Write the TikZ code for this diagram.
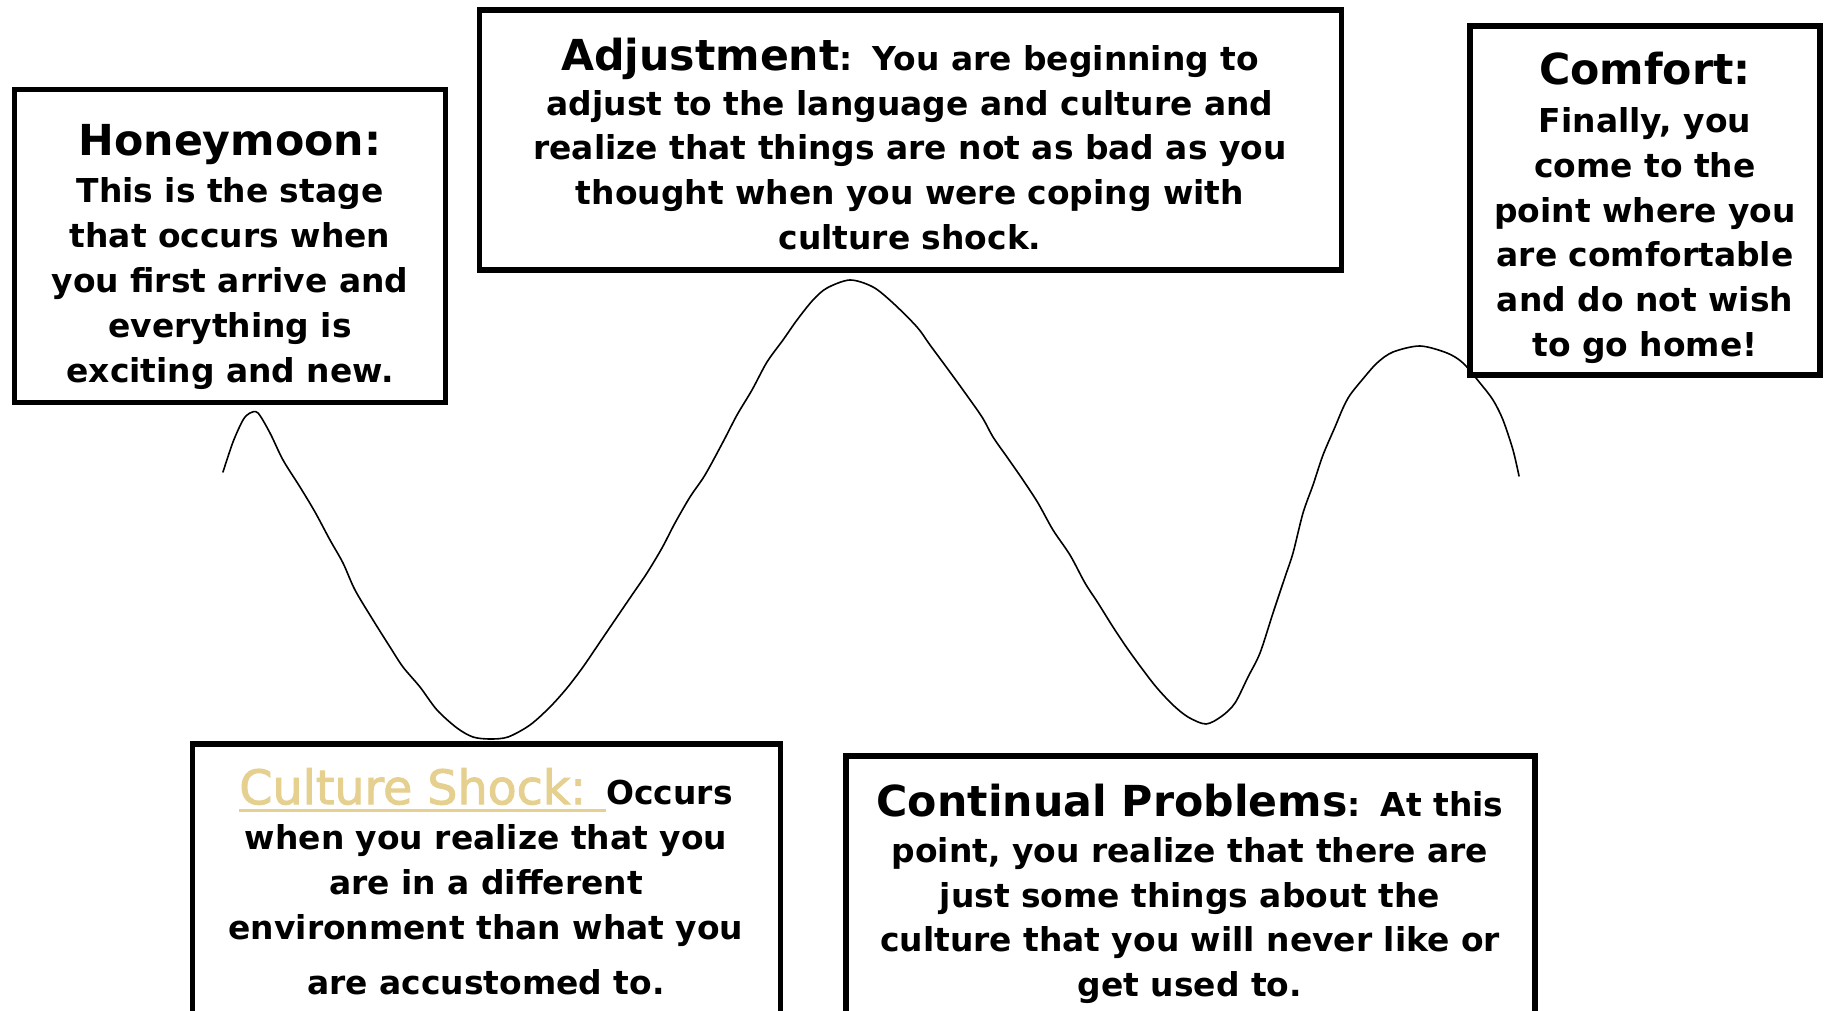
\documentclass[tikz,border=0pt]{standalone}
\usepackage{fontspec}
\setmainfont{DejaVu Sans}
\newfontfamily\shockfont{DejaVu Sans}[FakeBold=2]
\definecolor{shocktan}{HTML}{E5D08F}
\newcommand\titlefont{\fontsize{42.7}{44.5}\selectfont}
\newcommand\shockul[1]{\setbox0\hbox{#1}\rlap{\rule[-8pt]{\wd0}{3.6pt}}\box0}
\begin{document}
\begin{tikzpicture}[x=1pt,y=-1pt,
  box/.style={draw, line width=5.5pt, inner sep=0pt},
  txt/.style={inner sep=0pt, align=center, anchor=north,
    font=\bfseries\fontsize{32.9}{45}\selectfont},
  wave/.style={line width=1.6pt, line join=round, line cap=round}]
\useasboundingbox (0,0) rectangle (1824,1011);
\fill[white] (0,0) rectangle (1824,1011);

% boxes
\node[box, minimum width=431pt, minimum height=313pt] (honeybox) at (230,246) {};
\node[box, minimum width=862pt, minimum height=260pt] (adjbox) at (910.5,140) {};
\node[box, minimum width=350pt, minimum height=349pt] (comfbox) at (1645,200.5) {};
\node[box, minimum width=588pt, minimum height=300pt] (shockbox) at (486.5,894) {};
\node[box, minimum width=689pt, minimum height=290pt] (contbox) at (1190.5,901) {};

% texts
\node[txt] (honeytext) at (230,123.7) {{\titlefont Honeymoon:}\\[2pt]
  This is the stage\\ that occurs when\\ you first arrive and\\ everything is\\ exciting and new.};

\node[txt, font=\bfseries\fontsize{32.9}{44.6}\selectfont] (adjtext) at (910,38) {{\titlefont Adjustment}:\hskip 20pt You are beginning to\\[0pt]
  adjust to the language and culture and\\ realize that things are not as bad as you\\
  thought when you were coping with\\ culture shock.};

\node[txt, font=\bfseries\fontsize{32.9}{44.8}\selectfont] (comftext) at (1645,52) {{\titlefont Comfort:}\\[3pt]
  Finally, you\\ come to the\\ point where you\\ are comfortable\\ and do not wish\\ to go home!};

\node[txt] (shocktext) at (486,767.9) {{\shockfont\mdseries\fontsize{47.5}{45}\selectfont\color{shocktan}\shockul{Culture Shock: }}Occurs\\[0pt]
  when you realize that you\\ are in a different\\ environment than what you\\[10.5pt] are accustomed to.};

\node[txt, font=\bfseries\fontsize{32.9}{44.6}\selectfont] (conttext) at (1190,783.4) {{\titlefont Continual Problems}:\hskip 20pt At this\\[2pt]
  point, you realize that there are\\ just some things about the\\ culture that you will never like or\\ get used to.};

% the wave
\draw[wave] plot[smooth, tension=0.5] coordinates {
(223,472) (233,442) (243,420) (250,413) (258,413) (270,433) (283,460) (300,487)
(315,512) (330,540) (343,563) (355,590) (373,620) (390,647) (403,667) (420,687)
(437,710) (457,728) (473,737) (490,739) (508,737) (530,725) (550,707) (567,688)
(583,667) (600,642) (617,617) (632,595) (647,573) (662,548) (675,523) (690,497)
(705,475) (723,442) (737,415) (752,390) (767,362) (783,340) (797,320) (813,300)
(827,288) (850,280) (873,287) (893,303) (917,327) (930,345) (947,368) (963,390)
(982,417) (993,437) (1007,457) (1023,480) (1038,503) (1053,530) (1070,555)
(1085,583) (1098,603) (1113,627) (1127,648) (1143,670) (1157,688) (1173,705)
(1188,717) (1206,724) (1222,716) (1235,703) (1248,677) (1260,653) (1273,613)
(1285,577) (1293,553) (1303,513) (1313,485) (1323,455) (1335,427) (1343,408)
(1350,395) (1362,380) (1377,363) (1393,352) (1420,346) (1447,353) (1463,363)
(1480,383) (1493,400) (1503,420) (1513,450) (1519,476)};
\end{tikzpicture}
\end{document}
